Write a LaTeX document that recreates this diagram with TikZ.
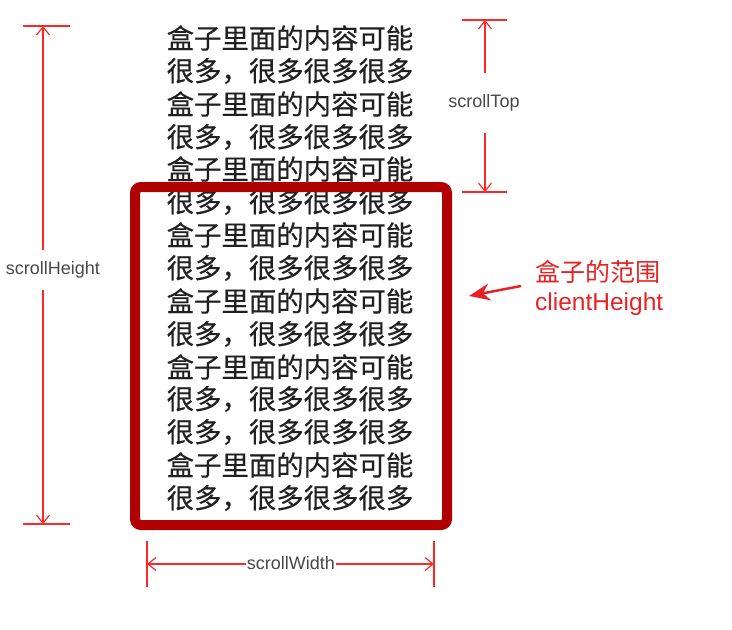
\documentclass[tikz,border=0pt]{standalone}
\usepackage{fontspec}
\setmainfont{Liberation Sans}
\newfontfamily\cjkfont{Noto Sans CJK SC}
\newfontfamily\cjkbody[FakeBold=0.4]{Noto Sans CJK SC}
\definecolor{boxred}{HTML}{B00000}
\definecolor{dimred}{HTML}{FF2626}
\definecolor{notered}{HTML}{E82222}
\definecolor{labelgray}{HTML}{484848}
\definecolor{textgray}{HTML}{202020}
\usetikzlibrary{arrows.meta}

\begin{document}
\begin{tikzpicture}[
  x=1pt, y=-1pt,
  line/.style={font=\cjkbody\fontsize{27.4}{30}\selectfont, text=textgray, inner sep=0},
  dim/.style={draw=dimred, line width=1.2, -{Straight Barb[length=8,width=13]}},
  tick/.style={draw=dimred, line width=1.2},
  dimlabel/.style={font=\fontsize{18}{20}\selectfont, text=labelgray, inner sep=0},
  frame/.style={draw=boxred, line width=10, rounded corners=6},
  pointer/.style={draw=notered, line width=2.5, -{Stealth[length=21,width=17]}},
  note/.style={anchor=west, text=notered, inner sep=0},
]
\useasboundingbox (0,0) rectangle (732,630);
% content of the box
\node[line] (l1) at (290,38) {盒子里面的内容可能};
\node[line] (l2) at (290,71) {很多，很多很多很多};
\node[line] (l3) at (290,104) {盒子里面的内容可能};
\node[line] (l4) at (290,137) {很多，很多很多很多};
\node[line] (l5) at (290,169) {盒子里面的内容可能};
\node[line] (l6) at (290,202) {很多，很多很多很多};
\node[line] (l7) at (290,235) {盒子里面的内容可能};
\node[line] (l8) at (290,268) {很多，很多很多很多};
\node[line] (l9) at (290,301) {盒子里面的内容可能};
\node[line] (l10) at (290,334) {很多，很多很多很多};
\node[line] (l11) at (290,367) {盒子里面的内容可能};
\node[line] (l12) at (290,399) {很多，很多很多很多};
\node[line] (l13) at (290,432) {很多，很多很多很多};
\node[line] (l14) at (290,465) {盒子里面的内容可能};
\node[line] (l15) at (290,498) {很多，很多很多很多};
% the visible box
\node[frame, minimum width=312, minimum height=338] (box) at (291,356) {};
% scrollHeight
\coordinate (ht) at (43,26);
\coordinate (hb) at (43,524);
\draw[tick] (23,26) -- (70,26);
\draw[tick] (23,524) -- (70,524);
\node[dimlabel, minimum height=40] (hlab) at (53,270) {scrollHeight};
\draw[dim] (ht |- hlab.north) -- (ht);
\draw[dim] (hb |- hlab.south) -- (hb);
% scrollTop
\coordinate (tt) at (485,20);
\coordinate (tb) at (485,192);
\draw[tick] (462,20) -- (507,20);
\draw[tick] (462,192) -- (507,192);
\node[dimlabel, minimum height=60] (tlab) at (484,103) {scrollTop};
\draw[dim] (tt |- tlab.north) -- (tt);
\draw[dim] (tb |- tlab.south) -- (tb);
% scrollWidth
\coordinate (wl) at (147,564);
\coordinate (wr) at (434,564);
\draw[tick] (147,541) -- (147,587);
\draw[tick] (434,541) -- (434,587);
\draw[dim] (291,564) -- (wl);
\draw[dim] (291,564) -- (wr);
\node[dimlabel, fill=white, inner xsep=1] (wlab) at (291,563) {scrollWidth};
% clientHeight note
\coordinate (ptail) at (521,286);
\coordinate (phead) at (469,296);
\draw[pointer] (ptail) -- (phead);
\node[note, font=\cjkfont\fontsize{25}{27}\selectfont] (notecn) at (535,272) {盒子的范围};
\node[note, font=\fontsize{24.5}{27}\selectfont] (noteen) at (535,304) {clientHeight};
\end{tikzpicture}
\end{document}
